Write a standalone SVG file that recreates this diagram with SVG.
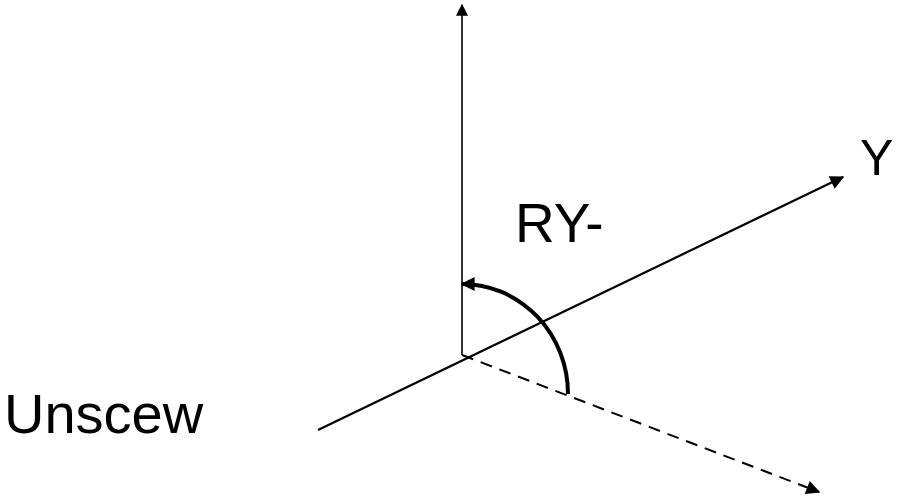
<svg xmlns="http://www.w3.org/2000/svg" width="909" height="499" viewBox="0 0 909 499">
<style>
.lbl{font-family:"Liberation Sans",Arial,sans-serif;fill:#000}
.ax{stroke:#000;fill:none}
</style>
<defs>
<marker id="ahs" viewBox="0 0 10 10" refX="9" refY="5" markerWidth="14" markerHeight="12" markerUnits="userSpaceOnUse" orient="auto">
<path d="M0,0 L10,5 L0,10 Z" fill="#000"/>
</marker>
<marker id="ahl" viewBox="0 0 10 10" refX="9" refY="5" markerWidth="17" markerHeight="14" markerUnits="userSpaceOnUse" orient="auto">
<path d="M0,0 L10,5 L0,10 Z" fill="#000"/>
</marker>
</defs>
<g id="connectors">
<line class="ax" x1="462" y1="355" x2="462" y2="5" stroke-width="1.6" marker-end="url(#ahs)"/>
<line class="ax" x1="318" y1="430" x2="843" y2="177" stroke-width="2.2" marker-end="url(#ahl)"/>
<line class="ax" x1="462" y1="355" x2="819" y2="492" stroke-width="2" stroke-dasharray="12,8" marker-end="url(#ahl)"/>
<path class="ax" d="M568,394 A106,110 0 0 0 462,284" stroke-width="4" marker-end="url(#ahl)"/>
</g>
<g id="label-y"><text class="lbl" x="860" y="175" font-size="50">Y</text></g>
<g id="label-ry"><text class="lbl" x="515" y="242" font-size="55">RY-</text></g>
<g id="label-unscew"><text class="lbl" x="4" y="433" font-size="56">Unscew</text></g>
</svg>
